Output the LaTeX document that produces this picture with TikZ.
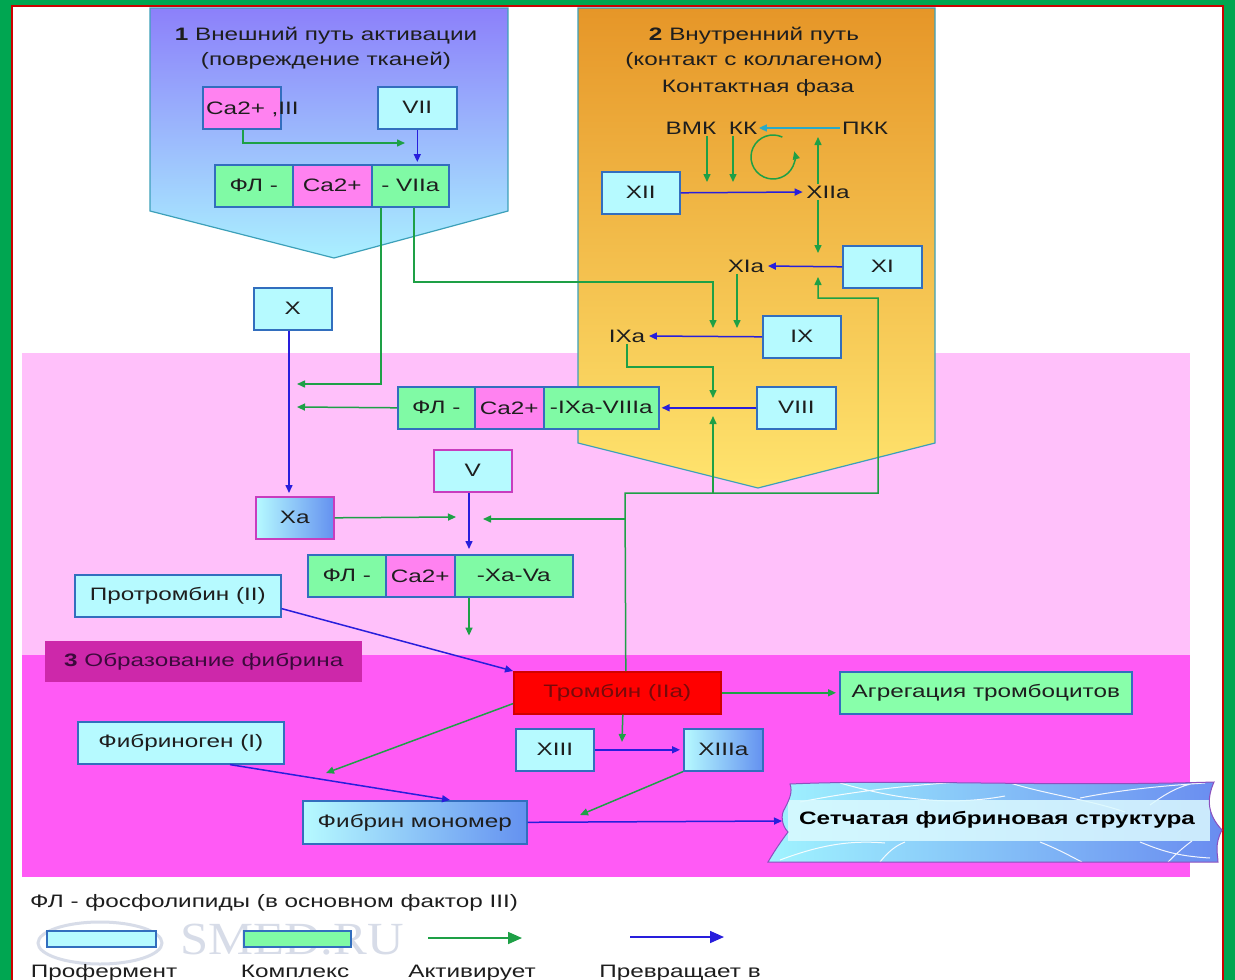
\documentclass[tikz,border=0pt]{standalone}
\usepackage{fontspec}
\setmainfont{Liberation Sans}[FakeStretch=1.35]
\newfontfamily\wmfont{Liberation Serif}[FakeStretch=1.1]
\usetikzlibrary{arrows.meta,calc}
\definecolor{frameG}{RGB}{0,166,81}
\definecolor{frameR}{RGB}{204,0,0}
\definecolor{bandPink}{RGB}{255,192,250}
\definecolor{bandMag}{RGB}{255,90,245}
\definecolor{lblMag}{RGB}{205,40,170}
\definecolor{boxCyan}{RGB}{182,250,255}
\definecolor{boxBlue}{RGB}{100,145,240}
\definecolor{boxGreen}{RGB}{128,250,165}
\definecolor{boxPink}{RGB}{255,130,240}
\definecolor{edgeBlue}{RGB}{50,110,190}
\definecolor{edgeMag}{RGB}{200,60,190}
\definecolor{arrG}{RGB}{30,160,70}
\definecolor{arrB}{RGB}{40,30,220}
\definecolor{arrT}{RGB}{40,170,200}
\definecolor{penBlueTop}{RGB}{140,128,250}
\definecolor{penBlueBot}{RGB}{170,240,255}
\definecolor{penOrTop}{RGB}{230,150,40}
\definecolor{penOrBot}{RGB}{255,228,110}
\definecolor{penEdge}{RGB}{60,160,185}
\definecolor{netL}{RGB}{160,244,255}
\definecolor{netR}{RGB}{105,140,240}
\definecolor{netEdge}{RGB}{140,80,190}
\definecolor{netStrip}{RGB}{220,250,255}
\definecolor{thrText}{RGB}{120,10,10}
\definecolor{txt}{RGB}{30,30,30}
\definecolor{wmGrey}{RGB}{215,220,232}
\newcommand\fsz{\fontsize{18}{21}\selectfont}
\begin{document}
\begin{tikzpicture}[x=1pt,y=-1pt,
 every node/.style={font=\fsz, text=txt},
 box/.style={draw=edgeBlue, line width=1.6pt, fill=boxCyan, inner sep=0pt, anchor=north west, minimum height=42pt},
 gbox/.style={box, fill=boxGreen},
 pbox/.style={box, fill=boxPink},
 grbox/.style={box, left color=boxCyan, right color=boxBlue},
 lbl/.style={inner sep=1.5pt},
 legtxt/.style={anchor=base, inner sep=0pt},
 gar/.style={draw=arrG, line width=1.5pt, -{Triangle[length=8pt,width=7pt]}},
 bar/.style={draw=arrB, line width=1.5pt, -{Triangle[length=8pt,width=7pt]}},
 tar/.style={draw=arrT, line width=1.5pt, -{Triangle[length=8pt,width=7pt]}},
 bigg/.style={draw=arrG, line width=1.6pt, -{Triangle[length=14pt,width=12pt]}},
 bigb/.style={draw=arrB, line width=1.6pt, -{Triangle[length=14pt,width=12pt]}},
]
\useasboundingbox (0,0) rectangle (1235,980);
\clip (0,0) rectangle (1235,980);
% frame
\fill[frameG] (0,0) rectangle (1235,980);
\fill[white] (12,6) rectangle (1223,990);
\draw[frameR, line width=2pt] (12,990) -- (12,6) -- (1223,6) -- (1223,990);
% bands
\fill[bandPink] (22,353) rectangle (1190,655);
\fill[bandMag] (22,655) rectangle (1190,877);
% pentagons
\shade[top color=penBlueTop, bottom color=penBlueBot] (150,8) -- (508,8) -- (508,211) -- (334,258) -- (150,211) -- cycle;
\draw[penEdge, line width=1.2pt] (150,8) -- (508,8) -- (508,211) -- (334,258) -- (150,211) -- cycle;
\shade[top color=penOrTop, bottom color=penOrBot] (578,8) -- (935,8) -- (935,443) -- (758,488) -- (578,443) -- cycle;
\draw[penEdge, line width=1.2pt] (578,8) -- (935,8) -- (935,443) -- (758,488) -- (578,443) -- cycle;
% titles
\node (t1) at (326,36) {\textbf{1} Внешний путь активации};
\node (t1b) at (326,61) {(повреждение тканей)};
\node (t2) at (754,36) {\textbf{2} Внутренний путь};
\node (t2b) at (754,61) {(контакт с коллагеном)};
\node (t2c) at (758,88) {Контактная фаза};
% label 3
\node[anchor=north west, fill=lblMag, minimum width=317pt, minimum height=41pt, inner sep=0pt, text={rgb,255:red,60;green,10;blue,60}] (lbl3) at (45,641) {\textbf{3} Образование фибрина};

% extrinsic nodes
\node[pbox, minimum width=78pt] (ca) at (202,86) {};
\node[anchor=base west, inner sep=0pt] (catxt) at (206,114) {Ca2+ ,III};
\node[box, minimum width=79pt] (vii) at (377,86) {VII};
\node[gbox, minimum width=78pt] (c1a) at (214,164) {ФЛ -};
\node[pbox, minimum width=79pt] (c1b) at (292,164) {Ca2+};
\node[gbox, minimum width=77pt] (c1c) at (371,164) {- VIIa};

% intrinsic nodes
\node[lbl] (bmk) at (691,128) {ВМК};
\node[lbl] (kk) at (743,128) {КК};
\node[lbl] (pkk) at (865,128) {ПКК};
\node[box, minimum width=78pt] (xii) at (601,171) {XII};
\node[lbl] (xiia) at (828,192) {XIIa};
\node[box, minimum width=79pt] (xi) at (842,245) {XI};
\node[lbl] (xia) at (746,266) {XIa};
\node[box, minimum width=78pt] (ix) at (762,315) {IX};
\node[lbl] (ixa) at (627,336) {IXa};
\node[box, minimum width=79pt] (viii) at (756,386) {VIII};

% common pathway
\node[box, minimum width=78pt] (x) at (253,287) {X};
\node[gbox, minimum width=77pt] (c2a) at (397,386) {ФЛ -};
\node[pbox, minimum width=69pt] (c2b) at (474,386) {Ca2+};
\node[gbox, minimum width=115pt] (c2c) at (543,386) {-IXa-VIIIa};
\node[box, draw=edgeMag, minimum width=78pt] (v) at (433,449) {V};
\node[grbox, draw=edgeMag, minimum width=78pt] (xa) at (255,496) {Xa};
\node[gbox, minimum width=78pt] (c3a) at (307,554) {ФЛ -};
\node[pbox, minimum width=69pt] (c3b) at (385,554) {Ca2+};
\node[gbox, minimum width=118pt] (c3c) at (454,554) {-Xa-Va};
\node[box, minimum width=206pt] (pro) at (74,574) {Протромбин (II)};

% fibrin formation
\node[box, fill=red, draw={rgb,255:red,210;green,0;blue,0}, text=thrText, minimum width=207pt] (thr) at (513,671) {Тромбин (IIa)};
\node[gbox, fill={rgb,255:red,136;green,255;blue,170}, minimum width=292pt] (agg) at (839,671) {Агрегация тромбоцитов};
\node[box, minimum width=78pt] (xiii) at (515,728) {XIII};
\node[grbox, minimum width=79pt] (xiiia) at (683,728) {XIIIa};
\node[box, minimum width=206pt] (fib) at (77,721) {Фибриноген (I)};
\node[grbox, minimum width=224pt, minimum height=43pt] (mon) at (302,800) {Фибрин мономер};

% fibrin net
\shade[left color=netL, right color=netR] (790,784) .. controls (900,779) and (1050,787) .. (1214,782) .. controls (1206,800) and (1208,815) .. (1222,830) .. controls (1214,845) and (1218,855) .. (1218,862) -- (768,862) .. controls (775,850) and (782,840) .. (788,832) .. controls (782,826) and (780,815) .. (785,808) .. controls (789,800) and (793,792) .. (790,784) -- cycle;
\begin{scope}
\clip (790,784) .. controls (900,779) and (1050,787) .. (1214,782) .. controls (1206,800) and (1208,815) .. (1222,830) .. controls (1214,845) and (1218,855) .. (1218,862) -- (768,862) .. controls (775,850) and (782,840) .. (788,832) .. controls (782,826) and (780,815) .. (785,808) .. controls (789,800) and (793,792) .. (790,784) -- cycle;
\draw[white, line width=1pt, opacity=0.9]
 (800,802) .. controls (850,792) and (900,786) .. (960,782)
 (840,783) .. controls (900,800) and (950,806) .. (1005,796)
 (1010,783) .. controls (1050,795) and (1090,800) .. (1125,812)
 (1080,798) .. controls (1120,790) and (1160,786) .. (1205,783)
 (1150,805) .. controls (1168,792) and (1180,786) .. (1195,783)
 (780,860) .. controls (820,845) and (850,840) .. (885,843)
 (880,862) .. controls (888,852) and (895,846) .. (905,842)
 (1040,842) .. controls (1060,850) and (1070,856) .. (1082,862)
 (1140,842) .. controls (1160,850) and (1175,856) .. (1210,858)
 (1168,862) .. controls (1178,852) and (1185,846) .. (1192,841);
\fill[netStrip, opacity=0.85] (788,800) rectangle (1210,841);
\end{scope}
\draw[netEdge, line width=1pt] (790,784) .. controls (900,779) and (1050,787) .. (1214,782) .. controls (1206,800) and (1208,815) .. (1222,830) .. controls (1214,845) and (1218,855) .. (1218,862) -- (768,862) .. controls (775,850) and (782,840) .. (788,832) .. controls (782,826) and (780,815) .. (785,808) .. controls (789,800) and (793,792) .. (790,784) -- cycle;
\node[font=\fsz\bfseries, text=black] (net) at (997,820) {Сетчатая фибриновая структура};
\coordinate (netin) at (782,821);

% coordinates for junctions
\coordinate (j1) at (405,143);
\coordinate (xin1) at (297,384);
\coordinate (xin2) at (297,407);
\coordinate (b1) at (713,282);
\coordinate (ixin) at (713,328);
\coordinate (ixin2) at (737,328);
\coordinate (b2) at (713,367);
\coordinate (viiiin) at (713,398);
\coordinate (viiiin2) at (713,416);
\coordinate (a1) at (707,182);
\coordinate (a2) at (733,182);
\coordinate (up1) at (818,137);
\coordinate (dn1) at (818,253);
\coordinate (xiain) at (818,277);
\coordinate (n0) at (625,493);
\coordinate (n1) at (878,493);
\coordinate (n2) at (878,298);
\coordinate (n3) at (713,493);
\coordinate (n4) at (625,519);
\coordinate (vin) at (483,519);
\coordinate (vin2) at (456,517);
\coordinate (thrDown) at (622,742);
\coordinate (monIn1) at (326,773);
\coordinate (monIn2) at (580,815);

% extrinsic connectors
\draw[gar] ([xshift=41pt]ca.south west) |- (j1);
\draw[bar, shorten >=2pt] (vii.south) -- (vii.south |- c1c.north);
\draw[gar] ([xshift=10pt]c1c.south west) |- (xin1);
\draw[gar] ([xshift=43pt]c1c.south west) |- (b1) -- (ixin);

% intrinsic connectors
\draw[gar] (bmk.south -| a1) -- (a1);
\draw[gar] (kk.south -| a2) -- (a2);
\draw[tar] (pkk.west) -- (kk.east);
\draw[gar] (xiia.north -| up1) -- (up1);
\draw[gar] ([shift={(-65:22)}]773,157) arc[start angle=-65, end angle=-375, radius=22];
\draw[bar, shorten >=2pt] (xii.east) -- (xiia.west);
\draw[gar] (xiia.south -| dn1) -- (dn1);
\draw[bar, shorten >=2pt] (xi.west) -- (xia.east);
\draw[gar] (xia.south -| ixin2) -- (ixin2);
\draw[bar, shorten >=2pt] (ix.west) -- (ixa.east);
\draw[gar] (ixa.south) |- (b2) -- (viiiin);
\draw[bar, shorten >=2pt] (viii.west) -- (c2c.east);

% common pathway connectors
\draw[bar, shorten >=3pt] (x.south -| 289,0) -- (xa.north -| 289,0);
\draw[gar] (c2a.west) -- (xin2);
\draw[gar] ([xshift=8.5pt]thr.north) -- (n0) -- (n1) -- (n2) -| (xiain);
\draw[gar] (n3) -- (viiiin2);
\draw[gar] (n4) -- (vin);
\draw[gar] (xa.east) -- (vin2);
\draw[bar, shorten >=5pt] (v.south -| 469,0) -- (c3c.north -| 469,0);
\draw[gar] (c3c.south -| 469,0) -- ++(0,38);
\draw[bar] ($(pro.south east)+(0,-9)$) -- (thr.north west);

% fibrin connectors
\draw[gar, shorten >=3pt] (thr.east) -- (agg.west);
\draw[gar] ([xshift=5.5pt]thr.south) -- (thrDown);
\draw[bar, shorten >=3pt] (xiii.east) -- (xiiia.west);
\draw[gar] ($(thr.south west)+(0,-11)$) -- (monIn1);
\draw[bar] ($(fib.south west)+(153,0)$) -- ($(mon.north west)+(148,0)$);
\draw[gar] (xiiia.south west) -- (monIn2);
\draw[bar] (mon.east) -- (netin);

% watermark
\draw[wmGrey, line width=3pt] (100,943) ellipse [x radius=62, y radius=21];
\node[font=\wmfont\fontsize{46}{46}\selectfont, text=wmGrey] (wm) at (292,940) {SMED.RU};

% legend
\node[anchor=west, inner sep=0pt] (leg) at (30,903) {ФЛ - фосфолипиды (в основном фактор III)};
\node[box, minimum width=109pt, minimum height=16pt] (lgp) at (46,930) {};
\node[gbox, minimum width=107pt, minimum height=16pt] (lgc) at (243,930) {};
\coordinate (lga1) at (428,938);
\coordinate (lga2) at (522,938);
\coordinate (lgb1) at (630,937);
\coordinate (lgb2) at (724,937);
\draw[bigg] (lga1) -- (lga2);
\draw[bigb] (lgb1) -- (lgb2);
\node[legtxt] (lp) at (104,977) {Профермент};
\node[legtxt] (lc) at (295,977) {Комплекс};
\node[legtxt] (la) at (472,977) {Активирует};
\node[legtxt] (lb) at (680,977) {Превращает в};
\end{tikzpicture}
\end{document}
